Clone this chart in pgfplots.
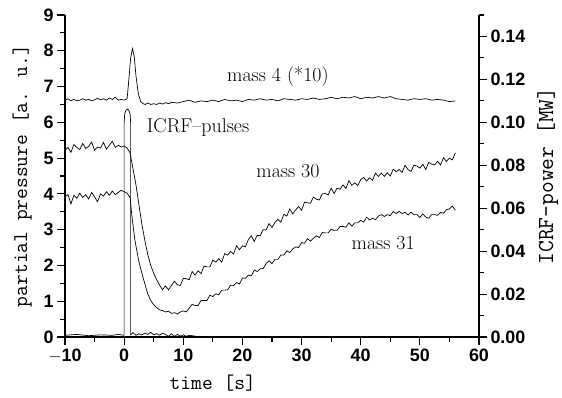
\documentclass[border=0pt]{standalone}
\usepackage{fontspec}
\usepackage{pgfplots}
\pgfplotsset{compat=1.18}
\newfontfamily\tickfont{Liberation Sans}
\begin{document}
\begin{tikzpicture}
\useasboundingbox (-65bp,-61bp) rectangle (497bp,337bp);
\pgfplotsset{
  common/.style={
    width=414bp, height=322bp, scale only axis,
    xmin=-10, xmax=60,
    axis line style={line width=1.3pt},
    tick align=outside,
    major tick length=8bp, minor tick length=5bp,
    every tick/.style={line width=1.1pt, black},
    /pgf/number format/assume math mode=true,
    tick label style={font=\fontsize{18}{18}\selectfont\tickfont\bfseries},
  }
}
\begin{axis}[common,
  axis x line*=bottom, axis y line*=left,
  ymin=0, ymax=9,
  xtick={-10,0,...,60}, minor xtick={-5,5,...,55},
  ytick={0,1,...,9}, minor ytick={0.5,1.5,...,8.5},
  xticklabels={$-$10,0,10,20,30,40,50,60},
  xlabel={\fontsize{21}{21}\selectfont\ttfamily time [s]},
  xlabel style={at={(axis description cs:0.357,0)}, anchor=north, yshift=-34bp},
  ylabel={\fontsize{21}{21}\selectfont\ttfamily partial pressure [a. u.]},
  ylabel style={at={(axis description cs:-0.072,0.5)}, rotate=0, anchor=south},
]
% mass 30
\addplot[black, line width=0.7pt] table {
-10 5.22
-9.5 5.30
-9 5.16
-8.5 5.38
-8 5.30
-7.5 5.24
-7 5.41
-6.5 5.27
-6 5.33
-5.5 5.45
-5 5.22
-4.5 5.31
-4 5.28
-3.5 5.44
-3 5.25
-2.5 5.36
-2 5.47
-1.5 5.30
-1 5.36
-0.5 5.31
0 5.34
0.5 5.28
1.0 5.15
1.5 4.70
2.0 4.25
2.5 3.70
3.0 3.15
3.5 2.70
4.0 2.30
4.5 2.00
5.0 1.78
5.5 1.60
6.0 1.45
6.5 1.32
7 1.43
7.5 1.32
8 1.44
8.5 1.56
9 1.46
9.5 1.44
10 1.64
10.5 1.63
11 1.60
11.5 1.83
12 1.73
12.5 1.85
13 1.77
13.5 1.98
14 1.96
14.5 1.96
15 2.15
15.5 2.09
16 2.19
16.5 2.09
17 2.33
17.5 2.29
18 2.39
18.5 2.32
19 2.55
19.5 2.44
20 2.55
20.5 2.52
21 2.72
21.5 2.83
22 2.67
22.5 2.84
23 2.83
23.5 3.00
24 2.99
24.5 3.17
25 3.06
25.5 3.20
26 3.29
26.5 3.21
27 3.43
27.5 3.38
28 3.58
28.5 3.44
29 3.55
29.5 3.65
30 3.54
30.5 3.77
31 3.75
31.5 3.74
32 3.91
32.5 3.85
33 3.83
33.5 4.00
34 4.01
34.5 3.97
35 4.16
35.5 4.01
36 4.16
36.5 4.13
37 4.25
37.5 4.15
38 4.37
38.5 4.24
39 4.31
39.5 4.23
40 4.40
40.5 4.46
41 4.36
41.5 4.45
42 4.38
42.5 4.58
43 4.49
43.5 4.58
44 4.49
44.5 4.59
45 4.50
45.5 4.69
46 4.62
46.5 4.68
47 4.60
47.5 4.80
48 4.68
48.5 4.63
49 4.80
49.5 4.78
50 4.72
50.5 4.83
51 4.68
51.5 4.88
52 4.83
52.5 4.81
53 4.91
53.5 4.81
54 5.01
54.5 4.91
55 5.00
55.5 4.95
56 5.15
};
% mass 31
\addplot[black, line width=0.7pt] table {
-10 3.92
-9.5 3.98
-9 3.72
-8.5 3.96
-8 3.88
-7.5 4.02
-7 3.90
-6.5 3.98
-6 3.86
-5.5 4.04
-5 3.92
-4.5 3.78
-4 4.00
-3.5 3.94
-3 4.06
-2.5 3.96
-2 4.08
-1.5 3.98
-1 4.04
-0.5 4.10
0 4.06
0.5 4.02
1.0 3.90
1.3 3.40
1.8 2.72
2.5 2.10
3.2 1.66
4.0 1.20
4.5 1.02
5.0 0.90
5.5 0.82
6.0 0.76
6.5 0.74
7.0 0.70
7.5 0.72
8.0 0.66
8.5 0.68
9.0 0.64
9.5 0.70
10 0.73
10.5 0.70
11 0.81
11.5 0.91
12 0.88
12.5 0.88
13 1.02
13.5 1.02
14 1.02
14.5 1.17
15 1.13
15.5 1.21
16 1.18
16.5 1.31
17 1.31
17.5 1.32
18 1.45
18.5 1.44
19 1.52
19.5 1.48
20 1.65
20.5 1.64
21 1.73
21.5 1.71
22 1.87
22.5 1.83
23 1.91
23.5 1.91
24 2.05
24.5 2.13
25 2.05
25.5 2.17
26 2.17
26.5 2.29
27 2.29
27.5 2.41
28 2.36
28.5 2.46
29 2.52
29.5 2.50
30 2.64
30.5 2.62
31 2.75
31.5 2.68
32 2.76
32.5 2.83
33 2.78
33.5 2.92
34 2.91
34.5 2.91
35 3.01
35.5 2.98
36 2.98
36.5 3.09
37 3.09
37.5 3.07
38 3.19
38.5 3.10
39 3.19
39.5 3.19
40 3.26
40.5 3.21
41 3.35
41.5 3.27
42 3.32
42.5 3.28
43 3.38
43.5 3.42
44 3.37
44.5 3.42
45 3.39
45.5 3.51
46 3.45
46.5 3.51
47 3.45
47.5 3.49
48 3.41
48.5 3.49
49 3.42
49.5 3.42
50 3.34
50.5 3.44
51 3.35
51.5 3.32
52 3.42
52.5 3.42
53 3.40
53.5 3.48
54 3.46
54.5 3.56
55 3.58
55.5 3.66
56 3.54
};
% mass 4 (*10)
\addplot[black, line width=0.7pt] table {
-10 6.62
-9.5 6.66
-9 6.60
-8.5 6.64
-8 6.60
-7.5 6.62
-7 6.66
-6.5 6.62
-6 6.64
-5.5 6.60
-5 6.63
-4.5 6.67
-4 6.63
-3.5 6.66
-3 6.62
-2.5 6.68
-2 6.64
-1.5 6.70
-1 6.62
-0.5 6.64
0 6.62
0.5 6.66
0.8 7.20
1.1 7.80
1.4 8.06
1.7 7.85
2.0 7.30
2.4 6.80
2.8 6.58
3.2 6.52
3.6 6.50
4.0 6.54
4.5 6.50
5.0 6.52
5.5 6.50
6.0 6.54
6.5 6.51
7.0 6.55
7.5 6.52
8.0 6.56
9 6.54
10 6.58
11 6.62
12 6.56
13 6.60
14 6.58
15 6.62
16 6.58
17 6.64
18 6.60
19 6.62
20 6.58
21 6.64
22 6.62
23 6.66
24 6.62
25 6.64
26 6.60
27 6.66
28 6.64
29 6.62
30 6.66
31 6.64
32 6.68
33 6.64
34 6.66
35 6.70
36 6.66
37 6.70
38 6.68
39 6.72
40 6.66
41 6.70
42 6.68
43 6.72
44 6.68
45 6.72
46 6.66
47 6.64
48 6.62
49 6.66
50 6.64
51 6.66
52 6.62
53 6.64
54 6.62
55 6.58
56 6.60
};
\node[font=\fontsize{20}{20}\selectfont] at (axis cs:26.0,7.27) {mass 4 (*10)};
\node[font=\fontsize{20}{20}\selectfont] at (axis cs:12.5,5.87) {ICRF--pulses};
\node[font=\fontsize{20}{20}\selectfont] at (axis cs:27.7,4.64) {mass 30};
\node[font=\fontsize{20}{20}\selectfont] at (axis cs:43.8,2.63) {mass 31};
\end{axis}
\begin{axis}[common,
  axis x line=none, axis y line*=right,
  ymin=0, ymax=0.15,
  ytick={0,0.02,...,0.14}, minor ytick={0.01,0.03,...,0.15},
  yticklabel style={/pgf/number format/.cd, fixed, fixed zerofill, precision=2},
  ylabel={\fontsize{23}{23}\selectfont\ttfamily ICRF\textendash power [MW]},
  ylabel style={at={(axis description cs:1.14,0.5)}, rotate=0, anchor=north, inner sep=0pt},
]
\addplot[black, line width=0.7pt] table {
-10 0.0008
-8 0.0012
-6 0.0006
-4 0.0010
-2 0.0008
-1 0.0012
0 0.0008
0 0.100
0.1 0.104
0.3 0.1055
0.55 0.1062
0.8 0.1055
1.0 0.104
1.1 0.100
1.1 0.001
1.5 0.002
2 0.0008
2.5 0.0015
3 0.001
3.5 0.0018
4 0.0012
4.5 0.0022
5 0.0010
5.5 0.0016
6 0.0008
6.5 0.0018
7 0.0012
7.5 0.0003
8 0.0015
8.5 0.0002
9 0.0012
9.5 0.0004
10 0.0010
10.5 0.0003
11 0.0008
12 0.0004
};
\end{axis}
\end{tikzpicture}
\end{document}
